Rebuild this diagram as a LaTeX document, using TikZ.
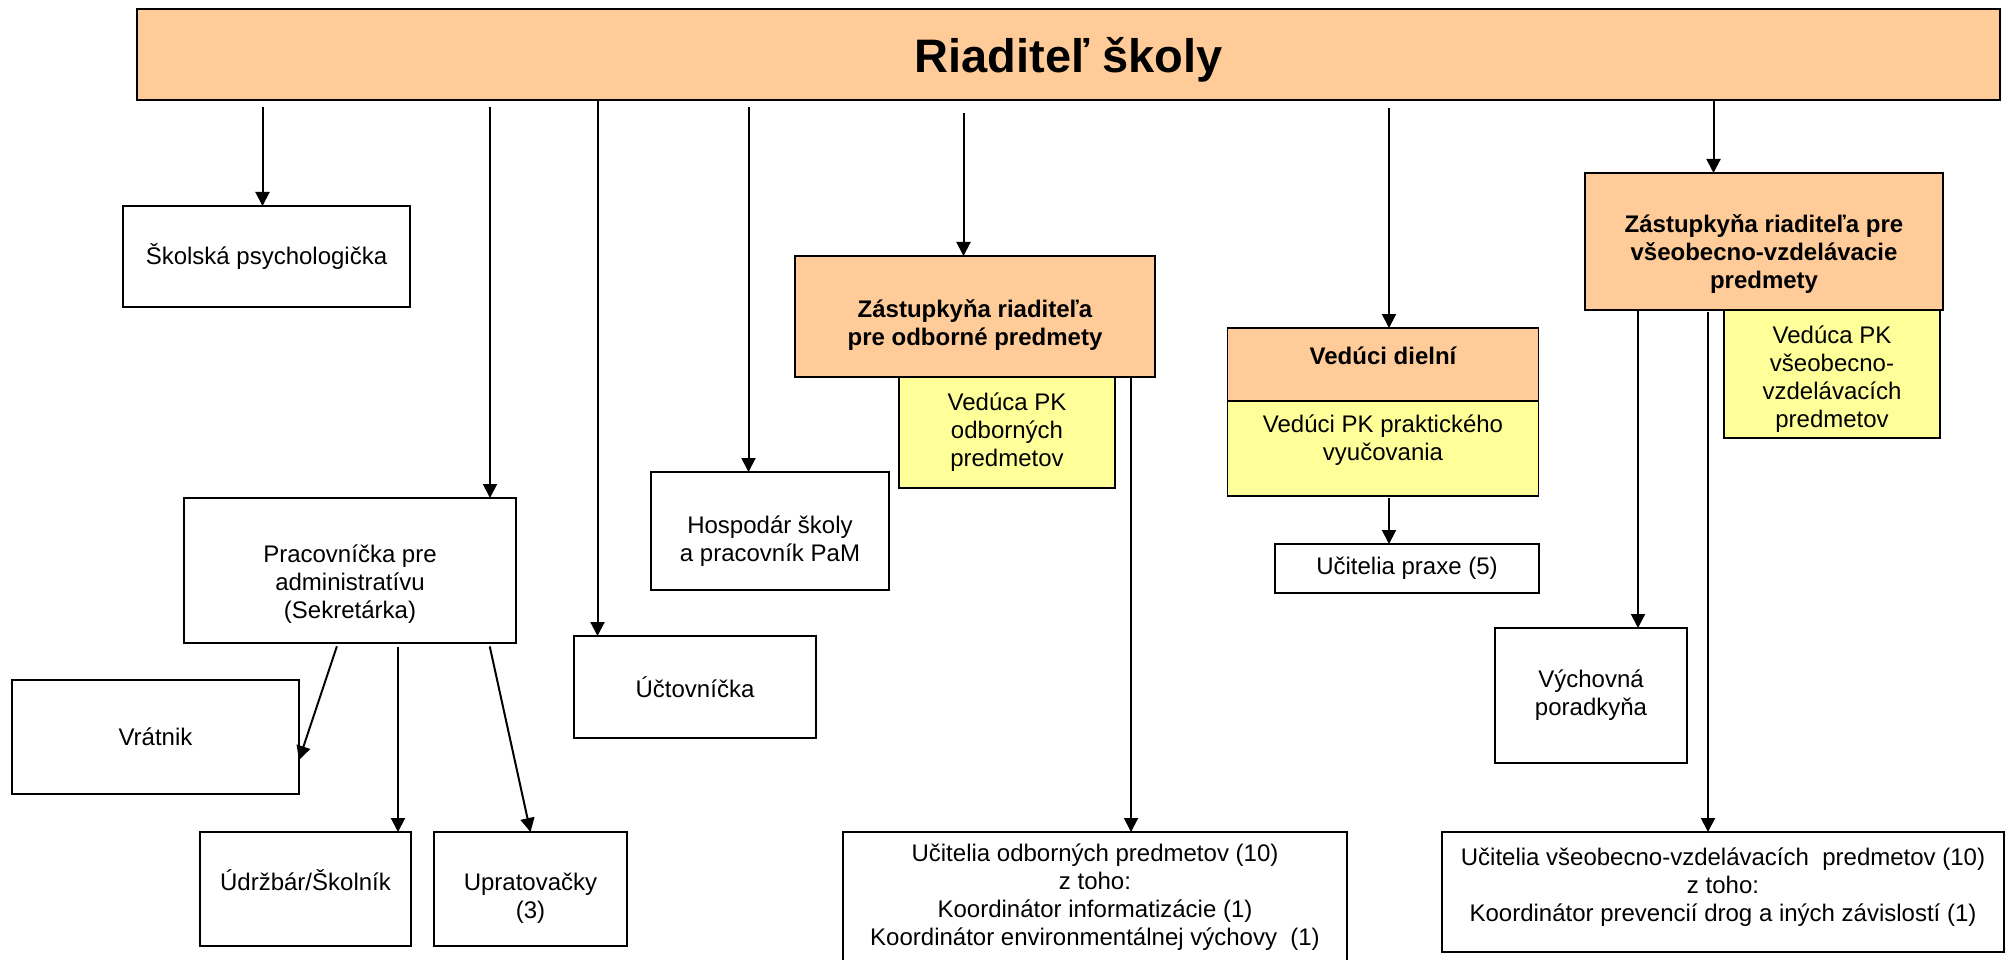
\documentclass[tikz,border=0pt]{standalone}
\usepackage{fontspec}
\setmainfont{Liberation Sans}
\usetikzlibrary{arrows.meta,positioning}

\definecolor{oranzova}{HTML}{FFCC99}
\definecolor{zlta}{HTML}{FFFF99}

\newcommand{\vyska}[1]{\rule{0pt}{#1}}

\tikzset{
  box/.style={draw,rectangle,line width=1.5pt,inner sep=0pt,outer sep=0pt,align=center,
    font=\fontsize{24}{28}\selectfont},
  veduci/.style={box,fill=oranzova,font=\bfseries\fontsize{24}{28}\selectfont},
  pk/.style={box,fill=zlta},
  dole/.style={execute at end node={\rule[-#1]{0pt}{#1}}},
}

\begin{document}
\begin{tikzpicture}[x=1pt,y=-1pt,->,>={Triangle[length=14pt,width=14pt]},line width=2pt]
    \useasboundingbox (0,0) rectangle (2008,960);

    % vedenie skoly
    \node[veduci,minimum width=1863pt,minimum height=91pt,
      font=\bfseries\fontsize{47}{54}\selectfont] (riad) at (1068.5,54.5) {\vyska{46pt}Riaditeľ školy};

    % lavá strana
    \node[box,minimum width=287pt,minimum height=101pt] (psych) at (266.5,256.5) {Školská psychologička};
    \node[box,minimum width=332pt,minimum height=145pt] (prac) at (350,570.5) {\vyska{44pt}Pracovníčka pre\\ administratívu\\ (Sekretárka)};
    \node[box,minimum width=287pt,minimum height=114pt] (vrat) at (155.5,737) {Vrátnik};
    \node[box,dole=18pt,minimum width=211pt,minimum height=114pt] (udrz) at (305.5,889) {Údržbár/Školník};
    \node[box,minimum width=193pt,minimum height=114pt] (uprat) at (530.5,889) {\vyska{36pt}Upratovačky\\ (3)};
    \node[box,minimum width=242pt,minimum height=102pt] (uctov) at (695,687) {Účtovníčka};
    \node[box,minimum width=238pt,minimum height=118pt] (hosp) at (770,531) {\vyska{38pt}Hospodár školy\\ a pracovník PaM};

    % odborne predmety
    \node[veduci,minimum width=360pt,minimum height=121pt] (zodb) at (975,316.5) {\vyska{34pt}Zástupkyňa riaditeľa\\ pre odborné predmety};
    \node[pk,anchor=north,minimum width=216pt,minimum height=111pt] (vodb) at ([xshift=32pt]zodb.south) {Vedúca PK\\ odborných\\ predmetov};
    \node[box,minimum width=504pt,minimum height=130pt] (uodb) at (1095,897) {Učitelia odborných predmetov (10)\\ z toho:\\ Koordinátor informatizácie (1)\\ Koordinátor environmentálnej výchovy\ \ (1)};

    % dielne
    \node[veduci,dole=18pt,minimum width=311pt,minimum height=73pt] (dielne) at (1383,364.5) {Vedúci dielní};
    \node[pk,dole=21pt,below=0pt of dielne,minimum width=311pt,minimum height=95pt] (vprax) {Vedúci PK praktického\\ vyučovania};
    \node[box,minimum width=264pt,minimum height=49pt] (uprax) at (1407,568.5) {Učitelia praxe (5)};

    % vseobecno-vzdelavacie predmety
    \node[veduci,minimum width=358pt,minimum height=137pt] (zvv) at (1764,241.5) {\vyska{42pt}Zástupkyňa riaditeľa pre\\ všeobecno-vzdelávacie\\ predmety};
    \node[pk,anchor=north,minimum width=216pt,minimum height=128pt] (vvv) at ([xshift=68pt]zvv.south) {\vyska{28pt}Vedúca PK\\ všeobecno-\\ vzdelávacích\\ predmetov};
    \node[box,minimum width=192pt,minimum height=135pt] (vych) at (1591,695.5) {Výchovná\\ poradkyňa};
    \node[box,dole=15pt,minimum width=562pt,minimum height=120pt] (uvv) at (1723,892) {Učitelia všeobecno-vzdelávacích\ \ predmetov (10)\\ z toho:\\ Koordinátor prevencií drog a iných závislostí (1)};

    % body na hornych hranach
    \coordinate (kpsych) at ([xshift=-4pt]psych.north);
    \coordinate (kprac) at ([xshift=140pt]prac.north);
    \coordinate (kuctov) at ([xshift=-97.5pt]uctov.north);
    \coordinate (khosp) at ([xshift=-21.5pt]hosp.north);
    \coordinate (kzodb) at ([xshift=-11.5pt]zodb.north);
    \coordinate (kdielne) at ([xshift=6pt]dielne.north);
    \coordinate (kzvv) at ([xshift=-50.5pt]zvv.north);
    \coordinate (kuodb) at ([xshift=36pt]uodb.north);
    \coordinate (kuprax) at ([xshift=-18pt]uprax.north);
    \coordinate (kvych) at ([xshift=47pt]vych.north);
    \coordinate (kuvv) at ([xshift=-15pt]uvv.north);

    \path
    (riad.south -| kpsych) edge [shorten <=7pt] (kpsych)
    (riad.south -| kprac) edge [shorten <=7pt] (kprac)
    (riad.south -| kuctov) edge (kuctov)
    (riad.south -| khosp) edge [shorten <=7pt] (khosp)
    (riad.south -| kzodb) edge [shorten <=13pt] (kzodb)
    (riad.south -| kdielne) edge [shorten <=8pt] (kdielne)
    (riad.south -| kzvv) edge (kzvv)
    (zodb.south -| kuodb) edge (kuodb)
    (vprax.south -| kuprax) edge [shorten <=2pt] (kuprax)
    (zvv.south -| kvych) edge (kvych)
    (zvv.south -| kuvv) edge [shorten <=2pt] (kuvv)
    ([xshift=-12pt]prac.south) edge [shorten <=3.5pt] ([yshift=-23pt]vrat.east)
    ([xshift=48pt]prac.south) edge [shorten <=3.5pt] ([xshift=48pt]prac.south |- udrz.north)
    ([xshift=139pt]prac.south) edge [shorten <=3.5pt] (uprat.north);
\end{tikzpicture}
\end{document}
